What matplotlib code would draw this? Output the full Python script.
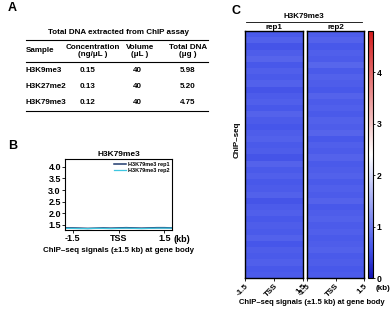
import numpy as np
import matplotlib
matplotlib.use("Agg")
import matplotlib.pyplot as plt
from matplotlib.colors import LinearSegmentedColormap

plt.rcParams['font.family'] = ['Liberation Sans', 'DejaVu Sans']
plt.rcParams['font.weight'] = 'bold'
plt.rcParams['axes.titleweight'] = 'bold'

# table data (panel A)
table_title = "Total DNA extracted from ChIP assay"
col_headers = ["Sample", "Concentration\n(ng/\u03bcL )", "Volume\n(\u03bcL )", "Total DNA\n(\u03bcg )"]
samples = ["H3K9me3", "H3K27me2", "H3K79me3"]
concentration = ["0.15", "0.13", "0.12"]
volume = ["40", "40", "40"]
total_dna = ["5.98", "5.20", "4.75"]

# profile data (panel B)
profile_x = [-1.75, -1.5, -1.25, -1.0, -0.75, -0.5, -0.25, 0.0, 0.25, 0.5, 0.75, 1.0, 1.25, 1.5, 1.75]
rep1_profile = [1.37, 1.37, 1.36, 1.35, 1.36, 1.37, 1.36, 1.37, 1.38, 1.37, 1.36, 1.37, 1.38, 1.38, 1.37]
rep2_profile = [1.35, 1.35, 1.34, 1.34, 1.35, 1.35, 1.34, 1.35, 1.36, 1.35, 1.34, 1.35, 1.36, 1.36, 1.36]

# heatmap rows (panel C)
rep1_rows = [0.62, 0.70, 0.58, 0.66, 0.74, 0.60, 0.68, 0.63, 0.71, 0.57, 0.65, 0.69, 0.61,
             0.72, 0.64, 0.59, 0.67, 0.70, 0.62, 0.66, 0.58, 0.73, 0.63, 0.68, 0.60, 0.65,
             0.71, 0.57, 0.64, 0.69, 0.61, 0.67, 0.63, 0.70, 0.59, 0.66, 0.62, 0.68, 0.60, 0.64]
rep2_rows = [0.66, 0.72, 0.61, 0.69, 0.64, 0.75, 0.63, 0.70, 0.67, 0.60, 0.73, 0.65, 0.68,
             0.62, 0.71, 0.66, 0.74, 0.61, 0.69, 0.64, 0.72, 0.63, 0.67, 0.70, 0.62, 0.68,
             0.65, 0.73, 0.60, 0.67, 0.71, 0.64, 0.69, 0.62, 0.66, 0.70, 0.63, 0.67, 0.61, 0.65]
heat_ticks = ["-1.5", "TSS", "1.5"]

W, H = 392, 309
fig = plt.figure(figsize=(W / 100, H / 100), dpi=100)


def fx(x):
    return x / W


def fy(y):
    return 1 - y / H


def box(l, t, r, b):
    return [fx(l), fy(b), fx(r - l), fy(t) - fy(b)]


fs = 5.8

# ---- panel A: table
fig.text(fx(8), fy(8), "A", fontsize=9, ha='left', va='center')
fig.text(fx(118), fy(33), table_title, fontsize=fs, ha='center', va='center')
for yl in [40, 62, 111]:
    fig.add_artist(plt.Line2D([fx(26), fx(208)], [fy(yl), fy(yl)], color='black', lw=0.8))
col_x = [26, 93, 140, 188]
fig.text(fx(col_x[0]), fy(51), col_headers[0], fontsize=fs, ha='left', va='center')
for i in range(1, 4):
    fig.text(fx(col_x[i]), fy(51), col_headers[i], fontsize=fs, ha='center', va='center',
             linespacing=0.85)
row_y = [71, 87, 103]
for i in range(3):
    fig.text(fx(col_x[0]), fy(row_y[i]), samples[i], fontsize=fs, ha='left', va='center')
    fig.text(fx(88), fy(row_y[i]), concentration[i], fontsize=fs, ha='center', va='center')
    fig.text(fx(137), fy(row_y[i]), volume[i], fontsize=fs, ha='center', va='center')
    fig.text(fx(188), fy(row_y[i]), total_dna[i], fontsize=fs, ha='center', va='center')

# ---- panel B: profile
fig.text(fx(8), fy(146), "B", fontsize=9, ha='left', va='center')
axb = fig.add_axes(box(65, 159, 172, 230))
axb.plot(profile_x, rep1_profile, color='#1f3a6e', lw=1.1, label='H3K79me3 rep1')
axb.plot(profile_x, rep2_profile, color='#3ec6e0', lw=0.9, label='H3K79me3 rep2')
axb.set_xlim(-1.75, 1.75)
axb.set_ylim(1.28, 4.34)
axb.set_yticks([1.5, 2.0, 2.5, 3.0, 3.5, 4.0])
axb.set_yticklabels(["1.5", "2.0", "2.5", "3.0", "3.5", "4.0"])
axb.set_xticks([-1.5, 0, 1.5])
axb.set_xticklabels(["-1.5", "TSS", "1.5"])
axb.tick_params(labelsize=6.5, length=2, width=0.6, pad=1)
for s in axb.spines.values():
    s.set_linewidth(0.8)
axb.set_title("H3K79me3", fontsize=6.0, pad=2)
fig.text(fx(174), fy(239), "(kb)", fontsize=6.5, ha='left', va='center')
fig.text(fx(119), fy(250), "ChIP\u2013seq signals (\u00b11.5 kb) at gene body", fontsize=5.7,
         ha='center', va='center')
axb.legend(loc='upper right', fontsize=4.0, frameon=False, handlelength=2.0,
           borderaxespad=0.1, labelspacing=0.15, handletextpad=0.4)

# ---- panel C: heatmap
fig.text(fx(232), fy(11), "C", fontsize=9, ha='left', va='center')
cmap = LinearSegmentedColormap.from_list(
    'bwr2', [(0, '#1414b4'), (0.12, '#4656ea'), (0.5, '#ffffff'), (1, '#d41c1c')])
vmin, vmax = 0, 4.8
ax1 = fig.add_axes(box(245, 31, 303, 278))
ax2 = fig.add_axes(box(307, 31, 364, 278))
for ax, rows, name in [(ax1, rep1_rows, 'rep1'), (ax2, rep2_rows, 'rep2')]:
    img = ax.imshow(np.array(rows)[:, None], aspect='auto', cmap=cmap, vmin=vmin, vmax=vmax,
                    extent=[-1.5, 1.5, 0, len(rows)], interpolation='nearest')
    ax.set_xlim(-1.5, 1.5)
    ax.set_yticks([])
    ax.set_xticks([-1.5, 0, 1.5])
    ax.set_xticklabels(heat_ticks, rotation=45, ha='right', rotation_mode='anchor')
    ax.tick_params(labelsize=5.8, length=2, width=0.6, pad=1)
    for s in ax.spines.values():
        s.set_linewidth(1.0)
    ax.set_title(name, fontsize=fs, pad=1)
cax = fig.add_axes(box(368, 31, 373, 278))
cb = fig.colorbar(img, cax=cax, ticks=[0, 1, 2, 3, 4])
cb.ax.tick_params(labelsize=6.2, length=1.5, width=0.6, pad=1)
cb.outline.set_linewidth(0.8)
fig.add_artist(plt.Line2D([fx(246), fx(362)], [fy(22), fy(22)], color='black', lw=0.6))
fig.text(fx(304), fy(16), "H3K79me3", fontsize=fs, ha='center', va='center')
fig.text(fx(237), fy(140), "ChIP\u2013seq", fontsize=fs, ha='center', va='center', rotation=90)
fig.text(fx(376), fy(289), "(kb)", fontsize=5.8, ha='left', va='center')
fig.text(fx(312), fy(302), "ChIP\u2013seq signals (\u00b11.5 kb) at gene body", fontsize=5.5,
         ha='center', va='center')

fig.savefig("out.png", dpi=100)
